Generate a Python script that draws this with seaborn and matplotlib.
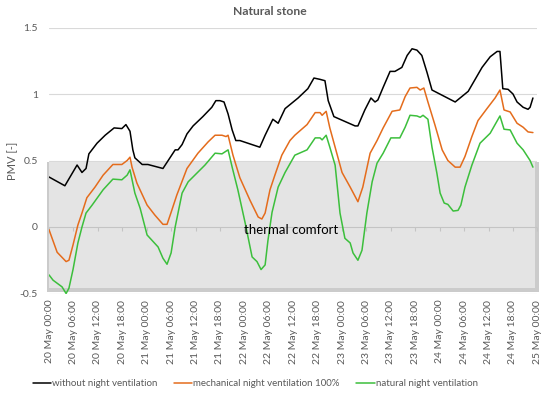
import numpy as np
import pandas as pd
import matplotlib
matplotlib.use("Agg")
import matplotlib.pyplot as plt
from matplotlib.patches import Rectangle
import seaborn as sns

sns.set_theme(style="white")
plt.rcParams["font.family"] = ["Lato", "DejaVu Sans"]

# hours since 20 May 00:00 and PMV values
black_h = [0.0, 3.9, 6.9, 8.1, 9.1, 9.8, 11.8, 13.8, 16.0, 17.9, 18.9, 19.9,
           20.6, 21.1, 22.9, 24.3, 28.0, 31.0, 31.7, 32.7, 33.9, 35.4, 37.8,
           40.0, 41.0, 42.0, 43.0, 44.0, 45.0, 45.9, 46.9, 51.8, 53.1, 55.0,
           56.3, 58.0, 61.2, 63.6, 65.1, 66.6, 67.8, 68.6, 70.0, 75.2, 75.9,
           77.6, 79.1, 80.1, 80.8, 82.1, 83.8, 85.0, 86.7, 88.0, 89.2, 90.4,
           91.6, 92.9, 94.1, 99.8, 103.0, 104.7, 106.4, 108.4, 110.1, 110.8,
           111.5, 112.8, 114.0, 115.0, 116.5, 117.7, 118.2, 118.9]
black_v = [0.376, 0.31, 0.466, 0.41, 0.44, 0.55, 0.63, 0.69, 0.745, 0.74,
           0.77, 0.72, 0.58, 0.52, 0.47, 0.47, 0.44, 0.58, 0.58, 0.62, 0.70,
           0.76, 0.83, 0.90, 0.95, 0.95, 0.94, 0.85, 0.73, 0.65, 0.65, 0.60,
           0.69, 0.81, 0.78, 0.89, 0.97, 1.04, 1.12, 1.11, 1.10, 0.95, 0.83,
           0.76, 0.76, 0.88, 0.97, 0.94, 0.955, 1.05, 1.17, 1.17, 1.20, 1.29,
           1.34, 1.33, 1.29, 1.16, 1.03, 0.94, 1.02, 1.11, 1.20, 1.28, 1.32,
           1.32, 1.04, 1.035, 1.00, 0.94, 0.90, 0.885, 0.90, 0.97]

orange_h = [0.0, 2.0, 4.2, 4.9, 5.9, 7.1, 8.1, 9.3, 11.3, 13.3, 15.7, 17.9,
            19.2, 19.9, 20.4, 21.6, 24.1, 26.0, 28.0, 29.0, 30.0, 31.4, 33.9,
            36.6, 39.1, 40.8, 42.5, 43.5, 44.0, 45.2, 46.9, 49.4, 51.4, 52.3,
            53.1, 54.3, 55.5, 57.2, 59.2, 60.4, 63.4, 65.4, 66.6, 67.1, 68.1,
            69.0, 70.3, 72.0, 74.0, 75.9, 77.1, 78.9, 80.6, 82.1, 84.3, 86.2,
            87.5, 88.7, 90.4, 91.2, 92.1, 93.1, 94.8, 96.6, 98.0, 99.8, 101.0,
            102.2, 103.9, 105.4, 107.6, 109.6, 110.8, 111.8, 113.3, 115.0,
            116.5, 117.7, 118.9]
orange_v = [-0.02, -0.19, -0.26, -0.25, -0.135, 0.015, 0.105, 0.22, 0.30,
            0.39, 0.47, 0.47, 0.50, 0.525, 0.45, 0.33, 0.165, 0.09, 0.02, 0.02,
            0.11, 0.24, 0.44, 0.555, 0.64, 0.69, 0.69, 0.68, 0.69, 0.54, 0.37,
            0.20, 0.075, 0.06, 0.105, 0.28, 0.39, 0.54, 0.65, 0.69, 0.77, 0.86,
            0.86, 0.84, 0.87, 0.745, 0.60, 0.41, 0.30, 0.19, 0.30, 0.555, 0.65,
            0.745, 0.87, 0.88, 0.98, 1.045, 1.05, 1.03, 1.045, 0.94, 0.77,
            0.58, 0.50, 0.45, 0.45, 0.53, 0.68, 0.80, 0.89, 0.97, 1.03, 0.88,
            0.865, 0.78, 0.75, 0.715, 0.71]

green_h = [0.0, 1.0, 3.2, 4.2, 4.9, 5.9, 7.1, 8.1, 9.1, 10.6, 13.3, 15.7,
           17.9, 19.2, 19.9, 21.1, 22.4, 24.1, 26.8, 28.0, 29.0, 30.0, 31.0,
           32.7, 34.2, 38.3, 40.8, 42.5, 44.0, 45.0, 46.4, 48.2, 49.9, 51.1,
           52.1, 53.1, 53.8, 54.8, 56.3, 58.0, 60.4, 63.4, 65.4, 66.6, 67.1,
           68.1, 69.0, 70.3, 71.5, 72.7, 74.0, 74.7, 75.9, 76.9, 78.1, 79.4,
           80.6, 82.1, 84.0, 86.2, 87.5, 88.7, 90.4, 91.2, 91.9, 93.1, 94.1,
           95.3, 96.1, 97.1, 98.0, 99.3, 100.5, 101.2, 102.2, 103.9, 105.9,
           108.4, 110.8, 111.8, 113.3, 115.0, 116.5, 118.2, 118.9]
green_v = [-0.36, -0.40, -0.45, -0.50, -0.46, -0.32, -0.12, 0.0, 0.105, 0.165,
           0.28, 0.36, 0.355, 0.39, 0.43, 0.255, 0.14, -0.06, -0.15, -0.235,
           -0.28, -0.195, 0.0, 0.255, 0.34, 0.465, 0.555, 0.55, 0.58, 0.45,
           0.28, 0.03, -0.225, -0.26, -0.32, -0.285, -0.10, 0.11, 0.30, 0.41,
           0.54, 0.58, 0.67, 0.67, 0.655, 0.69, 0.60, 0.465, 0.105, -0.085,
           -0.12, -0.195, -0.25, -0.175, 0.105, 0.34, 0.48, 0.555, 0.67, 0.67,
           0.75, 0.84, 0.835, 0.825, 0.84, 0.81, 0.60, 0.405, 0.255, 0.18,
           0.17, 0.12, 0.125, 0.165, 0.30, 0.465, 0.63, 0.705, 0.835, 0.735,
           0.73, 0.63, 0.58, 0.50, 0.45]

labels = ["without night ventilation", "mechanical night ventilation 100%",
          "natural night ventilation"]
colors = ["#000000", "#e46c1c", "#3cbf3c"]

tick_hours = np.arange(0, 121, 6)
tick_labels = pd.date_range("2020-05-20", periods=len(tick_hours),
                            freq="6h").strftime("%d %b %H:%M")

df = pd.concat([
    pd.DataFrame({"hour": black_h, "PMV": black_v, "series": labels[0]}),
    pd.DataFrame({"hour": orange_h, "PMV": orange_v, "series": labels[1]}),
    pd.DataFrame({"hour": green_h, "PMV": green_v, "series": labels[2]}),
])

fig = plt.figure(figsize=(5.5, 3.97), dpi=100)
ax = fig.add_axes([49 / 550, 1 - 293.5 / 397, 488.4 / 550, 266 / 397])

# thermal comfort band with a bevelled edge
ax.add_patch(Rectangle((-0.5, -0.49), 121, 0.98, color="#cbcbcb",
                       zorder=1, clip_on=False, lw=0))
ax.add_patch(Rectangle((-0.1, -0.455), 119.6, 0.945, color="#e4e4e4",
                       zorder=1.1, clip_on=False, lw=0))
ax.axhline(0, color="#c4c4c4", lw=0.8, zorder=1.5)
ax.plot(tick_hours, np.zeros(len(tick_hours)), ls="none", marker=3,
        ms=3, mew=0.8, color="#c4c4c4", zorder=1.5)

sns.lineplot(data=df, x="hour", y="PMV", hue="series", palette=colors,
             estimator=None, sort=True, lw=1.1, ax=ax, zorder=3)

ax.text(48, -0.02, "thermal comfort", fontsize=9.5, color="black",
        ha="left", va="center", zorder=4)

ax.set_xlim(0, 120)
ax.set_ylim(-0.5, 1.5)
ax.set_yticks([-0.5, 0, 0.5, 1, 1.5])
ax.set_yticklabels(["-0.5", "0", "0.5", "1", "1.5"])
ax.set_xticks(tick_hours)
ax.set_xticklabels(tick_labels, rotation=90)
ax.tick_params(axis="y", length=0, pad=8, labelsize=7.5, labelcolor="#595959")
ax.tick_params(axis="x", length=0, pad=4.5, labelsize=7.5, labelcolor="#595959")
ax.yaxis.grid(True, color="#d9d9d9", lw=0.8)
ax.set_axisbelow(True)
for s in ax.spines.values():
    s.set_visible(False)
ax.set_xlabel("")
ax.set_ylabel("PMV [-]", fontsize=8, color="#595959", labelpad=1)

handles, lbls = ax.get_legend_handles_labels()
ax.get_legend().remove()
fig.legend(handles, lbls, loc="lower center", bbox_to_anchor=(0.464, 0.0),
           ncol=3, frameon=False, fontsize=7, handlelength=1.9,
           handletextpad=0.1, columnspacing=1.7, labelcolor="#595959")

fig.text(0.49, 0.972, "Natural stone", ha="center", va="center",
         fontsize=8.7, fontweight="bold", color="#595959")

fig.savefig("out.png", dpi=100)
